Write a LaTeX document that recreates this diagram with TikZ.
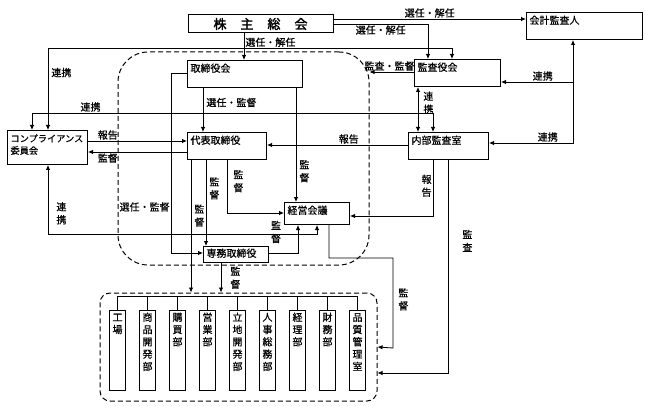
\documentclass[tikz,border=0pt]{standalone}
\usepackage{fontspec}
\setmainfont{Noto Sans CJK JP}[FakeBold=0.6]
\newfontfamily\kabufont[FakeBold=2]{Noto Sans CJK JP}
\usepackage{tikz}
\usetikzlibrary{arrows.meta,positioning}

\begin{document}
\begin{tikzpicture}
  [x=1pt, y=-1pt, line width=.8pt, font=\fontsize{10}{13}\selectfont,
  box/.style={rectangle, draw=black, line width=1pt, anchor=north west, inner sep=3pt, align=left, text height=8.5pt, text depth=12.5pt},
  dept/.style={rectangle, draw=black, line width=1pt, anchor=north west, inner sep=2pt, align=center, text width=12pt, text height=8.5pt, text depth=67.5pt, font=\fontsize{10}{12.3}\selectfont},
  group/.style={rectangle, draw=black, line width=1pt, dash pattern=on 5pt off 3pt},
  lbl/.style={inner sep=1pt},
  tate/.style={inner sep=1pt, align=center}]
  \useasboundingbox (0,0) rectangle (648,409);

  % Boxes
  \node (kabunushi) [rectangle, draw=black, line width=1pt, minimum width=145pt, minimum height=18pt, inner sep=0pt, font=\kabufont\fontsize{13}{15}\selectfont] at (260.5,24) {株\hspace{14pt}主\hspace{14pt}総\hspace{14pt}会};
  \node (kaikei) [box, text width=110pt] at (526,12) {会計監査人};
  \node (torishimari) [box, text width=109pt] at (187,60) {取締役会};
  \node (kansayaku) [box, text width=80pt] at (414,59) {監査役会};
  \node (comp) [box, text width=74pt, text depth=19.5pt, font=\fontsize{9.2}{12}\selectfont] at (7,130) {コンプライアンス\\委員会};
  \node (daihyo) [box, text width=73pt] at (187,132) {代表取締役};
  \node (naibu) [box, text width=74pt] at (408,132) {内部監査室};
  \node (keiei) [box, text width=59pt, text depth=7.5pt] at (284,202) {経営会議};
  \node (senmu) [box, text width=59pt, inner ysep=2pt, text depth=3.5pt] at (203,246) {専務取締役};

  \node (board) [group, rounded corners=30pt, minimum width=251pt, minimum height=213pt] at (243.5,158.5) {};
  \node (bumon) [group, rounded corners=10pt, minimum width=277pt, minimum height=108pt] at (238.5,347) {};

  % Divisions
  \node (kojo) [dept] at (109,310) {工\\場};
  \node (shohin) [dept, right=13pt of kojo] {商\\品\\開\\発\\部};
  \node (kobai) [dept, right=13pt of shohin] {購\\買\\部};
  \node (eigyo) [dept, right=13pt of kobai] {営\\業\\部};
  \node (ricchi) [dept, right=13pt of eigyo] {立\\地\\開\\発\\部};
  \node (jinji) [dept, right=13pt of ricchi] {人\\事\\総\\務\\部};
  \node (keiri) [dept, right=13pt of jinji] {経\\理\\部};
  \node (zaimu) [dept, right=13pt of keiri] {財\\務\\部};
  \node (hinshitsu) [dept, right=13pt of zaimu] {品\\質\\管\\理\\室};
  \draw (kojo.north) |- (hinshitsu.north |- 0,296) -- (hinshitsu.north)
    (shohin.north) -- (shohin.north |- 0,296) (kobai.north) -- (kobai.north |- 0,296)
    (eigyo.north) -- (eigyo.north |- 0,296) (ricchi.north) -- (ricchi.north |- 0,296)
    (jinji.north) -- (jinji.north |- 0,296) (keiri.north) -- (keiri.north |- 0,296)
    (zaimu.north) -- (zaimu.north |- 0,296);

  % Shareholders' meeting
  \draw[-{Latex[length=5pt,width=4.5pt]}] (kabunushi.east |- 0,19) -- node (l-kaikei) [lbl, above] {選任・解任} (kaikei.west |- 0,19);
  \draw[-{Latex[length=5pt,width=4.5pt]}] (kabunushi.east |- 0,24) -| node (l-kansa1) [lbl, below, pos=.25] {選任・解任} (kansayaku.north -| 428,0);
  \draw[-{Latex[length=5pt,width=4.5pt]}] (kabunushi.south -| 244,0) -- node (l-torishimari) [lbl, right, pos=.33] {選任・解任} (torishimari.north -| 244,0);

  % Auditors
  \draw[{Latex[length=5pt,width=4.5pt]}-{Latex[length=5pt,width=4.5pt]}] (comp.north -| 48,0) -- node (l-renkei1) [lbl, right, pos=.7, xshift=2pt] {連携} ++(0,-82) -| (kansayaku.north -| 452,0);
  \draw[{Latex[length=5pt,width=4.5pt]}-{Latex[length=5pt,width=4.5pt]}] (comp.north -| 32,0) -- ++(0,-17) -| node (l-renkei2) [lbl, above, pos=.073] {連携} (naibu.north -| 433,0);
  \draw[{Latex[length=5pt,width=4.5pt]}-{Latex[length=5pt,width=4.5pt]}] (kansayaku.south -| 418,0) -- node (l-renkei3) [tate, right, pos=.35, xshift=4pt] {連\\携} (naibu.north -| 418,0);
  \draw[{Latex[length=5pt,width=4.5pt]}-{Latex[length=5pt,width=4.5pt]}] (kaikei.south -| 573,0) |- node (l-renkei4) [lbl, above, pos=.65] {連携} (naibu.east |- 0,143);
  \coordinate (kaikei-bunki) at (573,82);
  \draw[-{Latex[length=5pt,width=4.5pt]}] (kaikei-bunki) -- node (l-renkei5) [lbl, above, pos=.42] {連携} (kansayaku.east |- kaikei-bunki);
  \draw[-{Latex[length=5pt,width=4.5pt]}] (kansayaku.west |- 0,72) -- node (l-kansa2) [lbl, above, pos=.55] {監査・監督} (board.east |- 0,72);

  % Board of directors
  \draw[-{Latex[length=5pt,width=4.5pt]}] (torishimari.south -| 203,0) -- node (l-daihyo) [lbl, right, pos=.33, xshift=2pt] {選任・監督} (daihyo.north -| 203,0);
  \draw[-{Latex[length=5pt,width=4.5pt]}] (torishimari.west |- 0,73) -- ++(-16,0) |- node (l-senmu) [lbl, left, pos=.372] {選任・監督} (senmu.west |- 0,253);
  \draw[-{Latex[length=5pt,width=4.5pt]}] (torishimari.south -| 296,0) -- node (l-keiei1) [tate, right, pos=.73, xshift=2pt] {監\\督} (keiei.north -| 296,0);

  % Representative director
  \draw[-{Latex[length=5pt,width=4.5pt]}] (comp.east |- 0,141) -- node (l-hokoku1) [lbl, above, pos=.2] {報告} (daihyo.west |- 0,141);
  \draw[-{Latex[length=5pt,width=4.5pt]}] (daihyo.west |- 0,152) -- node (l-kantoku1) [lbl, below, pos=.8] {監督} (comp.east |- 0,152);
  \draw[-{Latex[length=5pt,width=4.5pt]}] (naibu.west |- 0,145) -- node (l-hokoku2) [lbl, above, pos=.42] {報告} (daihyo.east |- 0,145);
  \draw[-{Latex[length=5pt,width=4.5pt]}] (daihyo.south -| 227,0) |- node (l-kantoku2) [tate, right, pos=.2, xshift=5pt] {監\\督} (keiei.west |- 0,213);
  \draw[-{Latex[length=5pt,width=4.5pt]}] (daihyo.south -| 206,0) -- node (l-kantoku3) [tate, right, pos=.33, xshift=2pt] {監\\督} (senmu.north -| 206,0);
  \draw[-{Latex[length=5pt,width=4.5pt]}] (daihyo.south -| 191,0) -- node (l-kantoku4) [tate, right, pos=.42, xshift=2pt] {監\\督} (bumon.north -| 191,0);

  % Managing director
  \draw[-{Latex[length=5pt,width=4.5pt]}] (senmu.south -| 221,0) -- node (l-kantoku5) [tate, right, pos=.5, xshift=8pt] {監\\督} (bumon.north -| 221,0);
  \draw[-{Latex[length=5pt,width=4.5pt]}] (senmu.east |- 0,253) -| (keiei.south -| 298,0);
  \node (l-kantoku6) [tate] at (276,232) {監\\督};
  \draw[{Latex[length=5pt,width=4.5pt]}-{Latex[length=5pt,width=4.5pt]}] (comp.south -| 48,0) |- node (l-renkei6) [tate, right, pos=.35, xshift=7pt] {連\\携} ++(269,69) -- (keiei.south -| 317,0);

  % Internal audit and management meeting
  \draw[-{Latex[length=5pt,width=4.5pt]}] (naibu.south -| 433,0) |- node (l-hokoku3) [tate, left, pos=.23] {報\\告} (keiei.east |- 0,216);
  \draw[-{Latex[length=5pt,width=4.5pt]}] (naibu.south -| 448,0) |- node (l-kansa3) [tate, right, pos=.19, xshift=13pt] {監\\査} (bumon.east |- 0,373);
  \draw[-{Latex[length=5pt,width=4.5pt]}] (keiei.south -| 329,0) -- ++(0,33) -| node (l-kantoku7) [tate, right, pos=.73, xshift=4pt] {監\\督} ++(64,90) -- (bumon.east |- 0,347);
\end{tikzpicture}
\end{document}
